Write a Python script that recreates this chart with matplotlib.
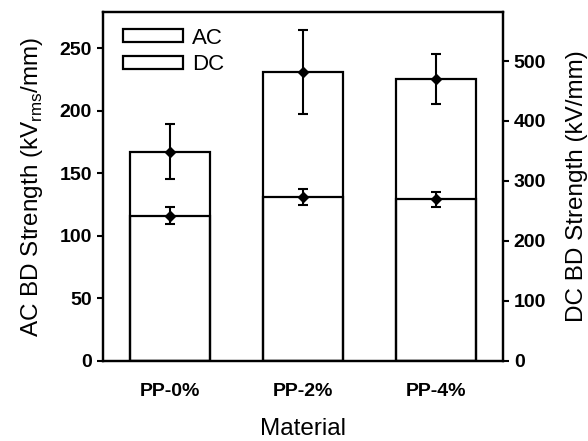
import numpy as np
import matplotlib
matplotlib.use('agg')
import matplotlib.pyplot as plt
from matplotlib.patches import Patch

plt.rcParams['font.family'] = ['Liberation Sans', 'DejaVu Sans']

materials = ['PP-0%', 'PP-2%', 'PP-4%']
ac_strength = [116, 131, 129]
ac_err = [7, 6.5, 6.3]
dc_strength = [349, 481, 470]
dc_err = [46, 70, 42]

x = np.arange(len(materials))
w = 0.6

fig = plt.figure(figsize=(5.88, 4.41), dpi=100)
ax = fig.add_axes([0.175, 0.182, 0.68, 0.791])
ax2 = ax.twinx()

ax.bar(x, ac_strength, w, facecolor='white', edgecolor='k', linewidth=1.6, zorder=2)
ax.errorbar(x, ac_strength, yerr=ac_err, fmt='D', color='k', ms=5,
            elinewidth=1.5, capsize=3.5, capthick=1.5, zorder=3)

ax2.bar(x, dc_strength, w, facecolor='none', edgecolor='k', linewidth=1.6, zorder=2)
ax2.errorbar(x, dc_strength, yerr=dc_err, fmt='D', color='k', ms=5,
             elinewidth=1.5, capsize=3.5, capthick=1.5, zorder=3)

ax.set_xlim(-0.5, 2.5)
ax.set_ylim(0, 279)
ax2.set_ylim(0, 582)
ax.set_yticks([0, 50, 100, 150, 200, 250])
ax2.set_yticks([0, 100, 200, 300, 400, 500])
ax.set_xticks(x)
ax.set_xticklabels(materials)

for a in (ax, ax2):
    for s in a.spines.values():
        s.set_linewidth(1.6)
    a.tick_params(axis='y', length=4.5, width=1.5, pad=3.5, labelsize=14)
    for lab in a.get_yticklabels():
        lab.set_fontweight('bold')
ax.tick_params(axis='x', length=0, pad=16, labelsize=14)
for lab in ax.get_xticklabels():
    lab.set_fontweight('bold')

ax.set_xlabel('Material', fontsize=17.5, labelpad=13)
ax.set_ylabel('AC BD Strength (kV$_{\\mathregular{rms}}$/mm)', fontsize=17.5, labelpad=10)
ax2.set_ylabel('DC BD Strength (kV/mm)', fontsize=17.5, labelpad=14)

handles = [Patch(facecolor='white', edgecolor='k', linewidth=1.6),
           Patch(facecolor='white', edgecolor='k', linewidth=1.6)]
ax2.legend(handles, ['AC', 'DC'], loc='upper left', bbox_to_anchor=(0.05, 0.955),
           frameon=False, fontsize=16, handlelength=2.7, handleheight=0.5,
           handletextpad=0.4, labelspacing=0.25, borderpad=0, borderaxespad=0)

plt.savefig('out.png', dpi=100)
